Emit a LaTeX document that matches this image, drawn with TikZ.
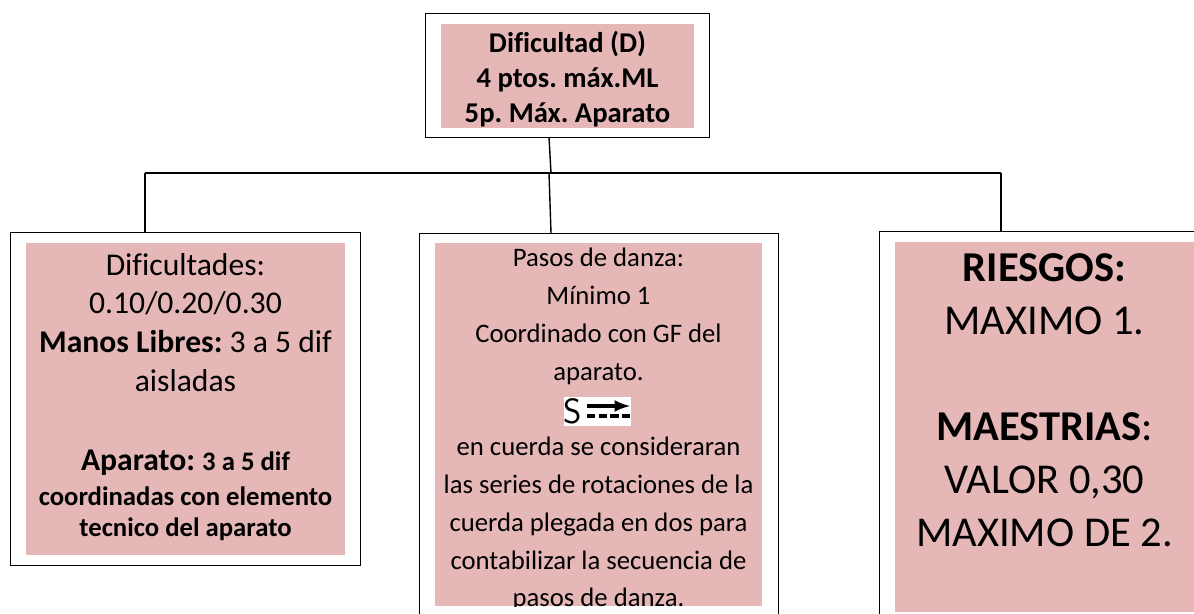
\documentclass[tikz,border=0pt]{standalone}
\usepackage{fontspec}
\setmainfont{Carlito}[Ligatures=NoCommon]
\definecolor{rosa}{HTML}{E5B8B7}
\frenchspacing
\begin{document}
\begin{tikzpicture}[
	x=0.02cm, y=-0.02cm,
	outer/.style={draw, line width=0.75pt, anchor=north west, inner sep=0pt},
	panel/.style={fill=rosa, anchor=north west, inner sep=0pt},
	texto/.style={anchor=north, align=center, inner sep=0pt},
	line/.style={line width=0.8pt}
]
\clip (0,0) rectangle (1194,613);

% outer boxes
\node[outer, minimum width=284*0.02cm, minimum height=124*0.02cm] (top) at (425,13) {};
\node[outer, minimum width=350*0.02cm, minimum height=333*0.02cm] (left) at (10,232) {};
\node[outer, minimum width=359*0.02cm, minimum height=400*0.02cm] (mid) at (419,233) {};
\node[outer, minimum width=340*0.02cm, minimum height=400*0.02cm] (right) at (879,231) {};

% pink panels
\node[panel, minimum width=253*0.02cm, minimum height=104*0.02cm] (topfill) at (441,24) {};
\node[panel, minimum width=319*0.02cm, minimum height=312*0.02cm] (leftfill) at (26,243) {};
\node[panel, minimum width=327*0.02cm, minimum height=363*0.02cm] (midfill) at (435,243) {};
\node[panel, minimum width=310*0.02cm, minimum height=370*0.02cm] (rightfill) at (895,242) {};

% connectors
\coordinate (hub) at (551,173);
\coordinate (hubleft) at (145,173);
\coordinate (hubright) at (1001,173);
\coordinate (topout) at (549,137);
\coordinate (midin) at (551,233);
\coordinate (leftin) at (145,232);
\coordinate (rightin) at (1001,231);
\draw[line] (topout) -- (hub);
\draw[line] (hubleft) -- (hubright);
\draw[line] (hubleft) -- (leftin);
\draw[line] (549,173) -- (midin);
\draw[line] (hubright) -- (rightin);

% texts
\node[texto, font=\fontsize{16.3}{19.9}\selectfont\bfseries] (toptext) at (567.5,31)
	{Dificultad (D)\\4 ptos. máx.ML\\5p. Máx. Aparato};

\node[texto, font=\fontsize{18}{22}\selectfont] (lefttext) at (185.5,253)
	{Dificultades:\\0.10/0.20/0.30\\\textbf{Manos Libres:} 3 a 5 dif\\aisladas\\[23pt]
	\textbf{Aparato: \fontsize{15.2}{18}\selectfont 3 a 5 dif}\\[-2pt]
	\fontsize{15.2}{18}\selectfont\textbf{coordinadas con elemento}\\[-4.4pt]
	\fontsize{15.2}{18}\selectfont\textbf{tecnico del aparato}};

\begin{scope}
\clip (435,243) rectangle (762,606);
\node[texto, font=\fontsize{15.2}{21.5}\selectfont] (midtext) at (598.5,248)
	{Pasos de danza:\\Mínimo 1\\Coordinado con GF del\\aparato.\\[21.5pt]
	en cuerda se consideraran\\las series de rotaciones de la\\cuerda plegada en dos para\\
	contabilizar la secuencia de\\pasos de danza.};
\end{scope}

% small sign in the middle box
\node[fill=white, anchor=north west, inner sep=0pt, minimum width=67*0.02cm, minimum height=29*0.02cm] (sign) at (564,397) {};
\node[inner sep=0pt, font=\fontsize{20}{20}\selectfont\sffamily] (signs) at (573,411.5) {S};
\draw[line width=2pt, -latex] (587,406) -- (630,406);
\draw[line width=2pt, dash pattern=on 4.8pt off 1.8pt] (587,416) -- (630,416);

\node[texto, font=\fontsize{24.2}{30.2}\selectfont] (righttext) at (1044.5,253)
	{\textbf{RIESGOS:}\\MAXIMO 1.\\[30.2pt]\textbf{MAESTRIAS}:\\VALOR 0,30\\MAXIMO DE 2.};
\end{tikzpicture}
\end{document}
